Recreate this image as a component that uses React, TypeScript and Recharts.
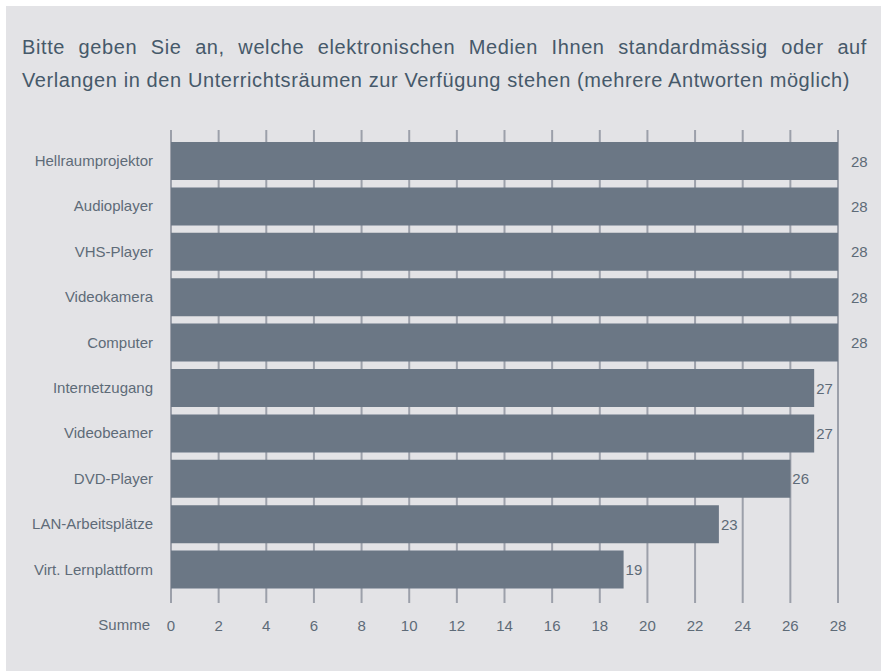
import React from "react";
import { BarChart, Bar, XAxis, YAxis, CartesianGrid, LabelList, Label } from "recharts";

const categories = [
  "Hellraumprojektor",
  "Audioplayer",
  "VHS-Player",
  "Videokamera",
  "Computer",
  "Internetzugang",
  "Videobeamer",
  "DVD-Player",
  "LAN-Arbeitsplätze",
  "Virt. Lernplattform",
];
const values = [28, 28, 28, 28, 28, 27, 27, 26, 23, 19];
const xTicks = [0, 2, 4, 6, 8, 10, 12, 14, 16, 18, 20, 22, 24, 26, 28];
const titleLines = [
  "Bitte geben Sie an, welche elektronischen Medien Ihnen standardmässig oder auf",
  "Verlangen in den Unterrichtsräumen zur Verfügung stehen (mehrere Antworten möglich)",
];
const axisTitle = "Summe";

const data = categories.map((name, i) => ({ name, value: values[i] }));
const maxValue = Math.max(...xTicks);

const FONT = "'Liberation Sans', Arial, Helvetica, sans-serif";
const TEXT = "#5e6b78";
const FS = 15;

const ValueLabel = (props: any) => {
  const { x, y, width, height, value } = props;
  const gap = value >= maxValue ? 13 : 2;
  return (
    <text
      x={Number(x) + Number(width) + gap}
      y={Number(y) + Number(height) / 2}
      dominantBaseline="central"
      fontSize={FS}
      fontFamily={FONT}
      fill={TEXT}
    >
      {value}
    </text>
  );
};

export default function App() {
  return (
    <div style={{ position: "absolute", left: 0, top: 0, width: 881, height: 671, background: "#ffffff" }}>
      <div style={{ position: "absolute", left: 6, top: 6, width: 875, height: 665, background: "#e3e3e6" }} />
      <div
        style={{
          position: "absolute",
          left: 22,
          top: 31,
          width: 845,
          fontFamily: FONT,
          fontSize: 20,
          letterSpacing: "0.6px",
          lineHeight: "33px",
          color: "#46596a",
        }}
      >
        <div style={{ textAlign: "justify", textAlignLast: "justify" }}>{titleLines[0]}</div>
        <div style={{ whiteSpace: "nowrap" }}>{titleLines[1]}</div>
      </div>
      <div style={{ position: "absolute", left: 0, top: 0 }}>
        <BarChart
          width={881}
          height={671}
          data={data}
          layout="vertical"
          margin={{ top: 130, right: 43, bottom: 24, left: 0 }}
        >
          <CartesianGrid horizontal={false} vertical={true} stroke="#9ca0aa" strokeWidth={2} />
          <XAxis
            type="number"
            domain={[0, maxValue]}
            ticks={xTicks}
            interval={0}
            axisLine={false}
            tickLine={false}
            tickSize={0}
            tickMargin={17}
            height={44}
            tick={{ fontSize: FS, fontFamily: FONT, fill: TEXT }}
          >
            <Label value={axisTitle} position="left" offset={21} fontSize={FS} fontFamily={FONT} fill={TEXT} />
          </XAxis>
          <YAxis
            type="category"
            dataKey="name"
            width={171}
            axisLine={false}
            tickLine={false}
            tickSize={0}
            tickMargin={18}
            padding={{ top: 8, bottom: 11 }}
            interval={0}
            tick={{ fontSize: FS, fontFamily: FONT, fill: TEXT }}
          />
          <Bar dataKey="value" fill="#6b7785" barSize={38} isAnimationActive={false}>
            <LabelList dataKey="value" content={ValueLabel} />
          </Bar>
        </BarChart>
      </div>
    </div>
  );
}
